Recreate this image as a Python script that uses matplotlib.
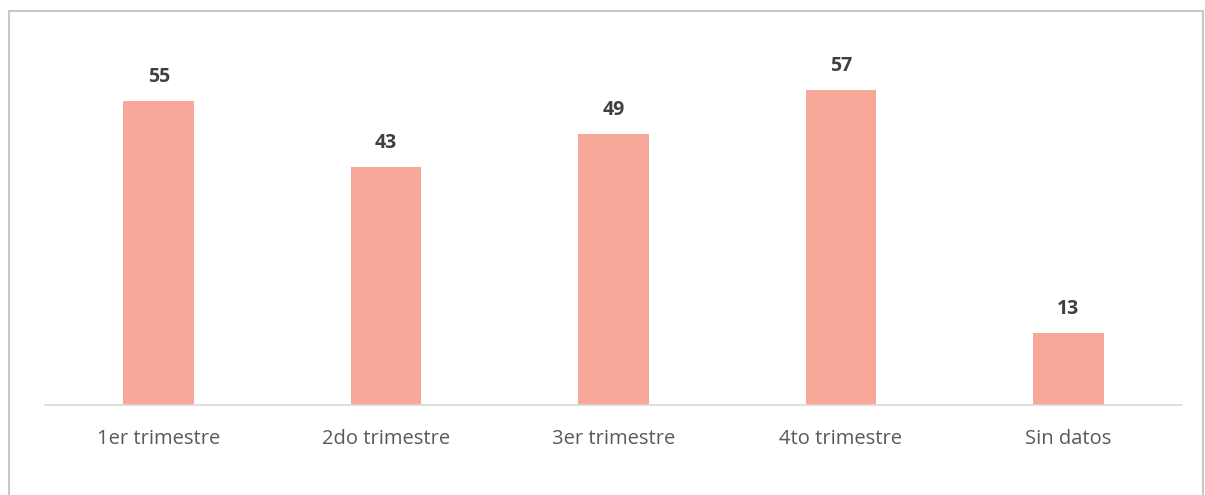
import matplotlib
matplotlib.use("Agg")
import matplotlib.pyplot as plt
from matplotlib.patches import Rectangle

categories = ["1er trimestre", "2do trimestre", "3er trimestre", "4to trimestre", "Sin datos"]
values = [55, 43, 49, 57, 13]

W, H = 1205, 495
fig = plt.figure(figsize=(W / 100, H / 100), dpi=100)
plt.rcParams['font.family'] = ['Open Sans', 'DejaVu Sans']

# outer frame
fig.patches.append(Rectangle((9 / W, -0.01), (1203 - 9) / W, (H - 11) / H + 0.01,
                             transform=fig.transFigure, fill=False,
                             edgecolor="#c8c8c8", linewidth=1.5))

ax = fig.add_axes([45 / W, 90 / H, (1182 - 45) / W, 332 / H])
x = range(len(categories))
ax.bar(x, values, width=0.31, color="#f8a899", zorder=2)
ax.set_xlim(-0.5, 4.5)
ax.set_ylim(0, 60)
for xi, v in zip(x, values):
    ax.annotate(str(v), (xi, v), xytext=(0, 10), textcoords="offset points",
                ha="center", va="bottom", fontsize=14, fontweight="bold",
                color="#404040")
ax.set_xticks(list(x))
ax.set_xticklabels(categories, fontsize=14.5, color="#595959")
ax.tick_params(axis="x", length=0, pad=17)
ax.set_yticks([])
for s in ["top", "right", "left"]:
    ax.spines[s].set_visible(False)
ax.spines["bottom"].set_color("#d9d9d9")
ax.spines["bottom"].set_linewidth(1.2)

fig.savefig("out.png", dpi=100)
